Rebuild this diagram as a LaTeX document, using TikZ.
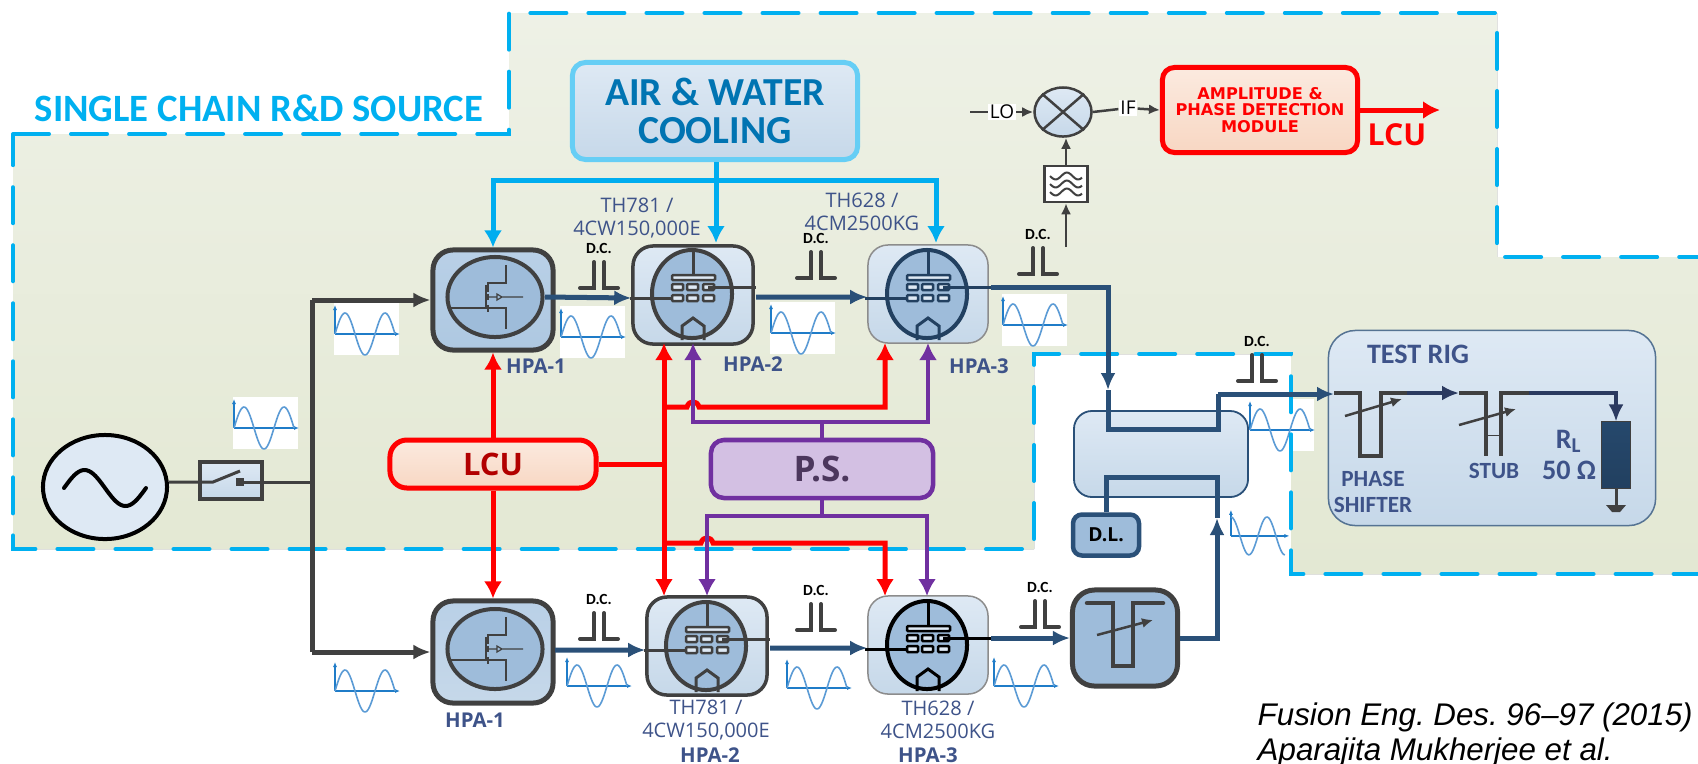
\documentclass[tikz,border=0pt]{standalone}
\usepackage{fontspec}
\setmainfont{Carlito}
\newfontfamily\tahfont{Open Sans}
\newfontfamily\vfont{DejaVu Sans}
\newfontfamily\citefont{Liberation Sans}
\usetikzlibrary{arrows.meta,shapes.geometric}
\definecolor{dashcol}{HTML}{00B0F0}
\definecolor{coolcol}{HTML}{00ADEF}
\definecolor{purplecol}{HTML}{7030A0}
\definecolor{sigcol}{HTML}{2A5078}
\definecolor{wirecol}{HTML}{404040}
\definecolor{navycol}{HTML}{3E5389}
\definecolor{tubecol}{HTML}{9EBCDA}
\definecolor{regiontop}{HTML}{EEF1E6}
\definecolor{regionbot}{HTML}{E3E8D3}
\definecolor{boxtop}{HTML}{DEE9F4}
\definecolor{boxbot}{HTML}{C6D8E9}
\definecolor{hpatop}{HTML}{B9D0E7}
\definecolor{hpabot}{HTML}{AEC8E1}
\definecolor{peachtop}{HTML}{FBEADF}
\definecolor{peachbot}{HTML}{F8D7C3}
\definecolor{wavecol}{HTML}{5B9BD5}
\definecolor{axiscol}{HTML}{1F7CC8}
\tikzset{
	wire/.style={draw=wirecol,line width=0.05cm},
	wirearrow/.style={wire,-{Latex[length=0.17cm,width=0.15cm]}},
	thinarrow/.style={draw=wirecol,line width=0.025cm,-{Latex[length=0.11cm,width=0.1cm]}},
	sigline/.style={draw=sigcol,line width=0.05cm},
	sigarrow/.style={sigline,-{Latex[length=0.17cm,width=0.15cm]}},
	redline/.style={draw=red,line width=0.05cm},
	redarrow/.style={redline,-{Latex[length=0.17cm,width=0.18cm]}},
	purpleline/.style={draw=purplecol,line width=0.045cm},
	purplearrow/.style={purpleline,-{Latex[length=0.17cm,width=0.18cm]}},
	coolline/.style={draw=coolcol,line width=0.05cm},
	coolarrow/.style={coolline,-{Latex[length=0.17cm,width=0.18cm]}},
	hpabox/.style={minimum width=1.2cm,minimum height=0.98cm,rounded corners=0.2cm,inner sep=0pt},
	tlabel/.style={font=\tahfont\fontsize{5.7}{6.4}\selectfont,text=navycol,align=center,inner sep=0pt},
	hpalabel/.style={font=\tahfont\bfseries\fontsize{5.8}{6.4}\selectfont,text=navycol,inner sep=0pt},
	riglabel/.style={font=\bfseries\fontsize{6.6}{7.4}\selectfont,text=navycol,align=center,inner sep=0pt},
	pics/dcblock/.style={code={
		\node[font=\bfseries\fontsize{4.4}{5}\selectfont,inner sep=0pt] (-label) at (0,-14) {D.C.};
		\draw[wirecol,line width=0.04cm,line cap=round] (-19,26) -- (-5,26) -- (-5,0);
		\draw[wirecol,line width=0.04cm,line cap=round] (5,0) -- (5,26) -- (19,26);
	}},
	pics/wave/.style={code={
		\fill[white] (0,0) rectangle (65,52);
		\draw[axiscol,line width=0.012cm,-{Latex[length=0.05cm,width=0.04cm]}] (1,31) -- (66,31);
		\draw[axiscol,line width=0.012cm,-{Latex[length=0.05cm,width=0.04cm]}] (1,31) -- (1,2);
		\draw[wavecol,line width=0.016cm] plot[domain=0:60,samples=50,smooth] (\x+1,{31-21*sin(9*\x+#1)});
	}},
	pics/mosfet/.style={code={
		\draw[wirecol,line width=0.04cm,fill=tubecol] (0,0) ellipse (0.475cm and 0.4cm);
		\draw[wirecol,line width=0.015cm] (-47,11) -- (-9,11) -- (-9,-12);
		\draw[wirecol,line width=0.018cm] (-7,-15) -- (-7,-5) (-7,-3) -- (-7,3) (-7,8) -- (-7,15);
		\draw[wirecol,line width=0.015cm] (-7,-14) -- (11,-14) -- (11,-32);
		\draw[wirecol,line width=0.015cm] (-7,11) -- (11,11) -- (11,32);
		\draw[wirecol,line width=0.012cm] (-7,0) -- (2,0) (2,-3) -- (7,0) -- (2,3) -- cycle (7,0) -- (28,0);
	}},
	pics/tube/.style={code={
		\draw[#1,line width=0.04cm,fill=tubecol] (0,0) ellipse (0.4cm and 0.44cm);
		\draw[#1,line width=0.03cm] (1,-46) -- (1,-19);
		\draw[#1,line width=0.025cm,fill=boxtop,rounded corners=0.01cm] (-20,-19) rectangle (23,-14);
		\foreach \gx in {-20,-5,11}
			\foreach \gy in {-7,4}
				\draw[#1,line width=0.025cm,fill=boxtop,rounded corners=0.01cm] (\gx,\gy-3) rectangle (\gx+11,\gy+3);
		\draw[#1,line width=0.03cm] (-62,4) -- (-20,4) (16,-7) -- (64,-7);
		\draw[#1,line width=0.03cm] (-10,46) -- (-10,32) -- (1,24) -- (12,32) -- (12,46);
		\coordinate (-anode) at (64,-7);
	}},
}

\begin{document}
\frenchspacing
\begin{tikzpicture}[x=0.01cm,y=-0.01cm]
	\useasboundingbox (0,0) rectangle (1698,763);
	\clip (0,0) rectangle (1698,763);

	\fill[top color=regiontop,bottom color=regionbot] (13,134) -- (509,134) -- (509,13) -- (1497,13) -- (1497,257) -- (1710,257) -- (1710,574) -- (1291,574) -- (1291,354) -- (1034,354) -- (1034,549) -- (13,549) -- cycle;
	\pic at (1249,399) {wave=0};
	\draw[dashcol,line width=0.04cm,line cap=round,dash pattern=on 0.36cm off 0.22cm] (13,134) -- (509,134) -- (509,13) -- (1497,13) -- (1497,257) -- (1710,257) -- (1710,574) -- (1291,574) -- (1291,354) -- (1034,354) -- (1034,549) -- (13,549) -- cycle;
	\node[font=\bfseries\fontsize{11}{12}\selectfont,text=dashcol,inner sep=0pt] (title) at (259,108) {SINGLE CHAIN R\&D SOURCE};

	\pic at (233,397) {wave=0};
	\pic at (334,303) {wave=0};
	\pic at (560,306) {wave=0};
	\pic at (770,302) {wave=0};
	\pic at (1002,294) {wave=0};
	\pic[scale=0.9] at (1230,508) {wave=90};
	\pic at (334,660) {wave=0};
	\pic at (566,655) {wave=0};
	\pic at (786,657) {wave=0};
	\pic at (993,655) {wave=0};

	\node[draw=cyan!60!white,line width=0.05cm,top color=boxtop,bottom color=boxbot,minimum width=2.85cm,minimum height=0.97cm,rounded corners=0.13cm,inner sep=0pt,font=\bfseries\fontsize{11.3}{11}\selectfont,text=blue!35!cyan!70!black,align=center] (cooling) at (715,111) {AIR \& WATER\\COOLING};

	\node[draw=black,line width=0.04cm,fill=boxtop,ellipse,minimum width=1.24cm,minimum height=1.04cm,inner sep=0pt] (source) at (105,487) {};
	\draw[black,line width=0.04cm,line cap=round] plot[domain=-1:1,samples=40,smooth] (105+41*\x,{488+18*sin(180*\x)});
	\node[draw=wirecol,line width=0.04cm,top color=boxtop,bottom color=boxbot,minimum width=0.62cm,minimum height=0.37cm,inner sep=0pt] (switch) at (231,480) {};
	\coordinate (busM) at (312,482);
	\coordinate (busT) at (312,300);
	\coordinate (busB) at (312,652);
	\draw[draw=wirecol,line width=0.03cm] (source.east |- busM) -- (213,482) -- (240,471);
	\fill[wirecol] (236,478) rectangle (244,486);
	\draw[draw=wirecol,line width=0.03cm] (240,482) -- (busM);

	\node[draw=wirecol,line width=0.05cm,top color=hpatop,bottom color=hpabot,hpabox,minimum height=1cm] (hpaUa) at (493,300) {};
	\node[draw=wirecol,line width=0.035cm,top color=boxtop,bottom color=boxbot,hpabox] (hpaUb) at (693,295) {};
	\node[draw=wirecol!60!white,line width=0.015cm,top color=boxtop,bottom color=boxbot,hpabox] (hpaUc) at (928,294) {};
	\node[draw=wirecol,line width=0.05cm,top color=hpatop,bottom color=boxbot,hpabox,minimum height=1.02cm] (hpaLa) at (493,652) {};
	\node[draw=wirecol,line width=0.035cm,top color=boxtop,bottom color=boxbot,hpabox] (hpaLb) at (707,646) {};
	\node[draw=wirecol!60!white,line width=0.015cm,top color=boxtop,bottom color=boxbot,hpabox] (hpaLc) at (928,645) {};

	\draw[wire] (busB) -- (busT);
	\draw[wirearrow] (busT) -- (hpaUa.west);
	\draw[wirearrow] (busB) -- (hpaLa.west);

	\pic at (495,297) {mosfet};
	\pic at (692,294) {tube=wirecol};
	\pic (tubeUc) at (927,294) {tube={sigcol!80!black}};
	\pic at (495,649) {mosfet};
	\pic at (706,646) {tube=wirecol};
	\pic (tubeLc) at (927,645) {tube=black};

	\draw[sigarrow] (545,297) -- ([yshift=-0.03cm]hpaUb.west);
	\draw[sigarrow] (756,297) -- ([yshift=-0.03cm]hpaUc.west);
	\draw[sigarrow] (555,650) -- ([yshift=-0.04cm]hpaLb.west);
	\draw[sigarrow] (770,648) -- ([yshift=-0.03cm]hpaLc.west);

	\pic (dcUa) at (599,262) {dcblock};
	\pic (dcUb) at (816,252) {dcblock};
	\pic (dcUc) at (1038,248) {dcblock};
	\pic (dcR) at (1257,355) {dcblock};
	\pic (dcRig) at (1562,358) {dcblock};
	\pic (dcLa) at (599,613) {dcblock};
	\pic (dcLb) at (816,604) {dcblock};
	\pic (dcLc) at (1040,601) {dcblock};

	\node[draw=red,line width=0.05cm,top color=peachtop,bottom color=peachbot,minimum width=2.06cm,minimum height=0.48cm,rounded corners=0.17cm,inner sep=0pt,font=\tahfont\bfseries\fontsize{8.8}{10}\selectfont,text=red!70!black] (lcu) at (493,464) {LCU};
	\node[draw=purplecol,line width=0.045cm,fill=blue!3!purplecol!30!white,minimum width=2.22cm,minimum height=0.58cm,rounded corners=0.13cm,inner sep=0pt,font=\tahfont\bfseries\fontsize{10}{12}\selectfont,text=purplecol!40!black!85!white] (ps) at (822,469) {P.S.};

	\coordinate (coolT) at (716,180);
	\draw[coolarrow] (cooling.south -| coolT) -- (716,243);
	\draw[coolarrow] (coolT) -- (493,180) -- (hpaUa.north);
	\draw[coolarrow] (coolT) -- (936,180) -- (936,243);

	\coordinate (redM) at (664,464);
	\draw[redarrow] (lcu.north) -- (hpaUa.south);
	\draw[redarrow] (lcu.south) -- (hpaLa.north);
	\draw[redline] (lcu.east) -- (redM);
	\draw[redarrow] (664,543) -- (664,343);
	\draw[redarrow] (664,543) -- (664,596);
	\draw[redarrow] (664,407) -- (687,407) .. controls (689,400) and (697,400) .. (699,407) -- (885,407) -- (885,343);
	\draw[redarrow] (664,543) -- (701,543) .. controls (703,536) and (711,536) .. (713,543) -- (885,543) -- (885,596);

	\draw[purpleline] (ps.north) -- (822,422);
	\draw[purplearrow] (822,422) -- (693,422) -- (693,343);
	\draw[purplearrow] (822,422) -- (928,422) -- (928,343);
	\draw[purpleline] (ps.south) -- (822,516);
	\draw[purplearrow] (822,516) -- (707,516) -- (707,596);
	\draw[purplearrow] (822,516) -- (927,516) -- (927,596);

	\node[hpalabel] (hpaUaText) at (536,366) {HPA-1};
	\node[hpalabel] (hpaUbText) at (753,364) {HPA-2};
	\node[hpalabel] (hpaUcText) at (979,366) {HPA-3};
	\node[hpalabel] (hpaLaText) at (475,720) {HPA-1};
	\node[hpalabel] (hpaLbText) at (710,755) {HPA-2};
	\node[hpalabel] (hpaLcText) at (928,755) {HPA-3};
	\node[tlabel] (tubeUbText) at (637,218) {TH781 /\\4CW150,000E};
	\node[tlabel] (tubeUcText) at (862,212) {TH628 /\\4CM2500KG};
	\node[tlabel] (tubeLbText) at (706,720) {TH781 /\\4CW150,000E};
	\node[tlabel] (tubeLcText) at (938,720) {TH628 /\\4CM2500KG};

	\node[draw=wirecol,line width=0.025cm,ellipse,top color=boxtop,bottom color=boxbot,minimum width=0.57cm,minimum height=0.49cm,inner sep=0pt] (mixer) at (1063,112) {};
	\draw[wirecol,line width=0.025cm] (mixer.north west) -- (mixer.south east) (mixer.north east) -- (mixer.south west);
	\node[font=\tahfont\fontsize{5.4}{6}\selectfont,fill=white,inner sep=0.4pt] (loText) at (1002,112) {LO};
	\node[font=\tahfont\fontsize{5.4}{6}\selectfont,fill=white,inner sep=0.4pt] (ifText) at (1128,108) {IF};
	\coordinate (loIn) at (970,112);
	\draw[wirecol,line width=0.025cm] (loIn) -- (loText);
	\draw[thinarrow] (loText) -- (mixer.west);
	\node[draw=red,line width=0.05cm,top color=peachtop,bottom color=peachbot,minimum width=1.95cm,minimum height=0.85cm,rounded corners=0.12cm,inner sep=0pt,font=\vfont\bfseries\fontsize{4.6}{4.6}\selectfont,text=red,align=center] (detect) at (1260,110) {AMPLITUDE \&\\PHASE DETECTION\\MODULE};
	\draw[wirecol,line width=0.025cm] (mixer.east) -- (ifText);
	\draw[thinarrow] (ifText) -- (detect.west);
	\coordinate (detectOut) at (1440,110);
	\draw[redarrow] (detect.east) -- (detectOut);
	\node[font=\tahfont\bfseries\fontsize{8.6}{10}\selectfont,text=red,inner sep=0pt] (lcuOut) at (1397,135) {LCU};
	\node[draw=wirecol,line width=0.025cm,fill=white,minimum width=0.43cm,minimum height=0.36cm,inner sep=0pt] (filter) at (1066,184) {};
	\foreach \fy in {176,184,192}
		\draw[wirecol,line width=0.02cm] plot[domain=0:32,samples=20,smooth] (1050+\x,{\fy+3.5*sin(\x*16)});
	\draw[thinarrow] (filter.north) -- (mixer.south -| filter.north);
	\coordinate (filterIn) at (1066,247);
	\draw[thinarrow] (filterIn) -- (filter.south);

	\node[draw=sigcol,line width=0.018cm,top color=boxtop,bottom color=boxbot,minimum width=1.74cm,minimum height=0.86cm,rounded corners=0.18cm,inner sep=0pt] (coupler) at (1161,454) {};
	\node[draw=sigcol,line width=0.045cm,fill=tubecol,minimum width=0.66cm,minimum height=0.41cm,rounded corners=0.09cm,inner sep=0pt,font=\tahfont\bfseries\fontsize{5.5}{6}\selectfont] (dl) at (1106,535) {D.L.};
	\node[draw=wirecol,line width=0.05cm,fill=tubecol,minimum width=1.05cm,minimum height=0.96cm,rounded corners=0.22cm,inner sep=0pt] (tuner) at (1125,638) {};
	\draw[wirecol,line width=0.045cm,line cap=round] (1087,603) -- (1113,603) -- (1113,666) -- (1133,666) -- (1133,603) -- (1163,603);
	\draw[thinarrow] (1097,635) -- (1153,620);
	\draw[sigarrow] (tubeLc-anode) -- (tuner.west);

	\node[draw=sigcol!80!white,line width=0.015cm,top color=boxtop,bottom color=boxbot,minimum width=3.27cm,minimum height=1.95cm,rounded corners=0.27cm,inner sep=0pt] (rig) at (1492,428) {};
	\coordinate (rigIn) at (1334,394);
	\coordinate (couplerIn) at (1108,390);
	\draw[sigarrow] (tubeUc-anode) -| (couplerIn);
	\draw[sigline] (couplerIn) -- (1108,429) -- (1218,429) -- (1218,394);
	\draw[sigarrow] (1218,394) -- (rigIn);
	\draw[sigline] (dl.north) -- (1106,477) -- (1217,477) -- (1217,518);
	\draw[sigarrow] (tuner.east) -- (1217,638) -- (1217,518);

	\node[riglabel,font=\bfseries\fontsize{8}{8}\selectfont] (rigText) at (1418,354) {TEST RIG};
	\node[riglabel] (phaseText) at (1373,492) {PHASE\\SHIFTER};
	\node[riglabel] (stubText) at (1494,471) {STUB};
	\node[riglabel,font=\bfseries\fontsize{8}{9}\selectfont] (loadText) at (1569,441) {R\textsubscript{L}};
	\node[riglabel,font=\bfseries\fontsize{8}{9}\selectfont] (ohmText) at (1569,470) {50 Ω};

	\draw[wirecol,line width=0.04cm] (1334,393) -- (1360,393) -- (1360,456) -- (1381,456) -- (1381,393) -- (1407,393);
	\draw[navycol!70!black,line width=0.04cm,-{Latex[length=0.17cm,width=0.15cm]}] (1407,393) -- (1459,393);
	\draw[wirecol,line width=0.04cm] (1459,393) -- (1486,393) -- (1486,456);
	\draw[wirecol,line width=0.04cm] (1501,456) -- (1501,393) -- (1529,393);
	\draw[wirecol,line width=0.01cm] (1486,435) -- (1501,435);
	\draw[thinarrow] (1345,416) -- (1402,399);
	\draw[thinarrow] (1459,425) -- (1516,409);
	\node[draw=wirecol,line width=0.01cm,top color=sigcol!90!black,bottom color=sigcol!80!black,minimum width=0.29cm,minimum height=0.66cm,inner sep=0pt] (load) at (1616,455) {};
	\draw[navycol!70!black,line width=0.04cm,-{Latex[length=0.17cm,width=0.15cm]}] (1529,393) -- (1616,393) -- (load.north);
	\coordinate (gndTop) at (1616,505);
	\draw[wirecol,line width=0.03cm] (load.south) -- (gndTop);
	\fill[wirecol] (1606,505) -- (1626,505) -- (1620,512) -- (1612,512) -- cycle;

	\node[anchor=base west,font=\citefont\itshape\fontsize{8.9}{10}\selectfont,inner sep=0pt] (citeA) at (1257,725) {Fusion Eng. Des. 96–97 (2015)};
	\node[anchor=base west,font=\citefont\itshape\fontsize{8.9}{10}\selectfont,inner sep=0pt] (citeB) at (1257,760) {Aparajita Mukherjee et al.};
\end{tikzpicture}
\end{document}
